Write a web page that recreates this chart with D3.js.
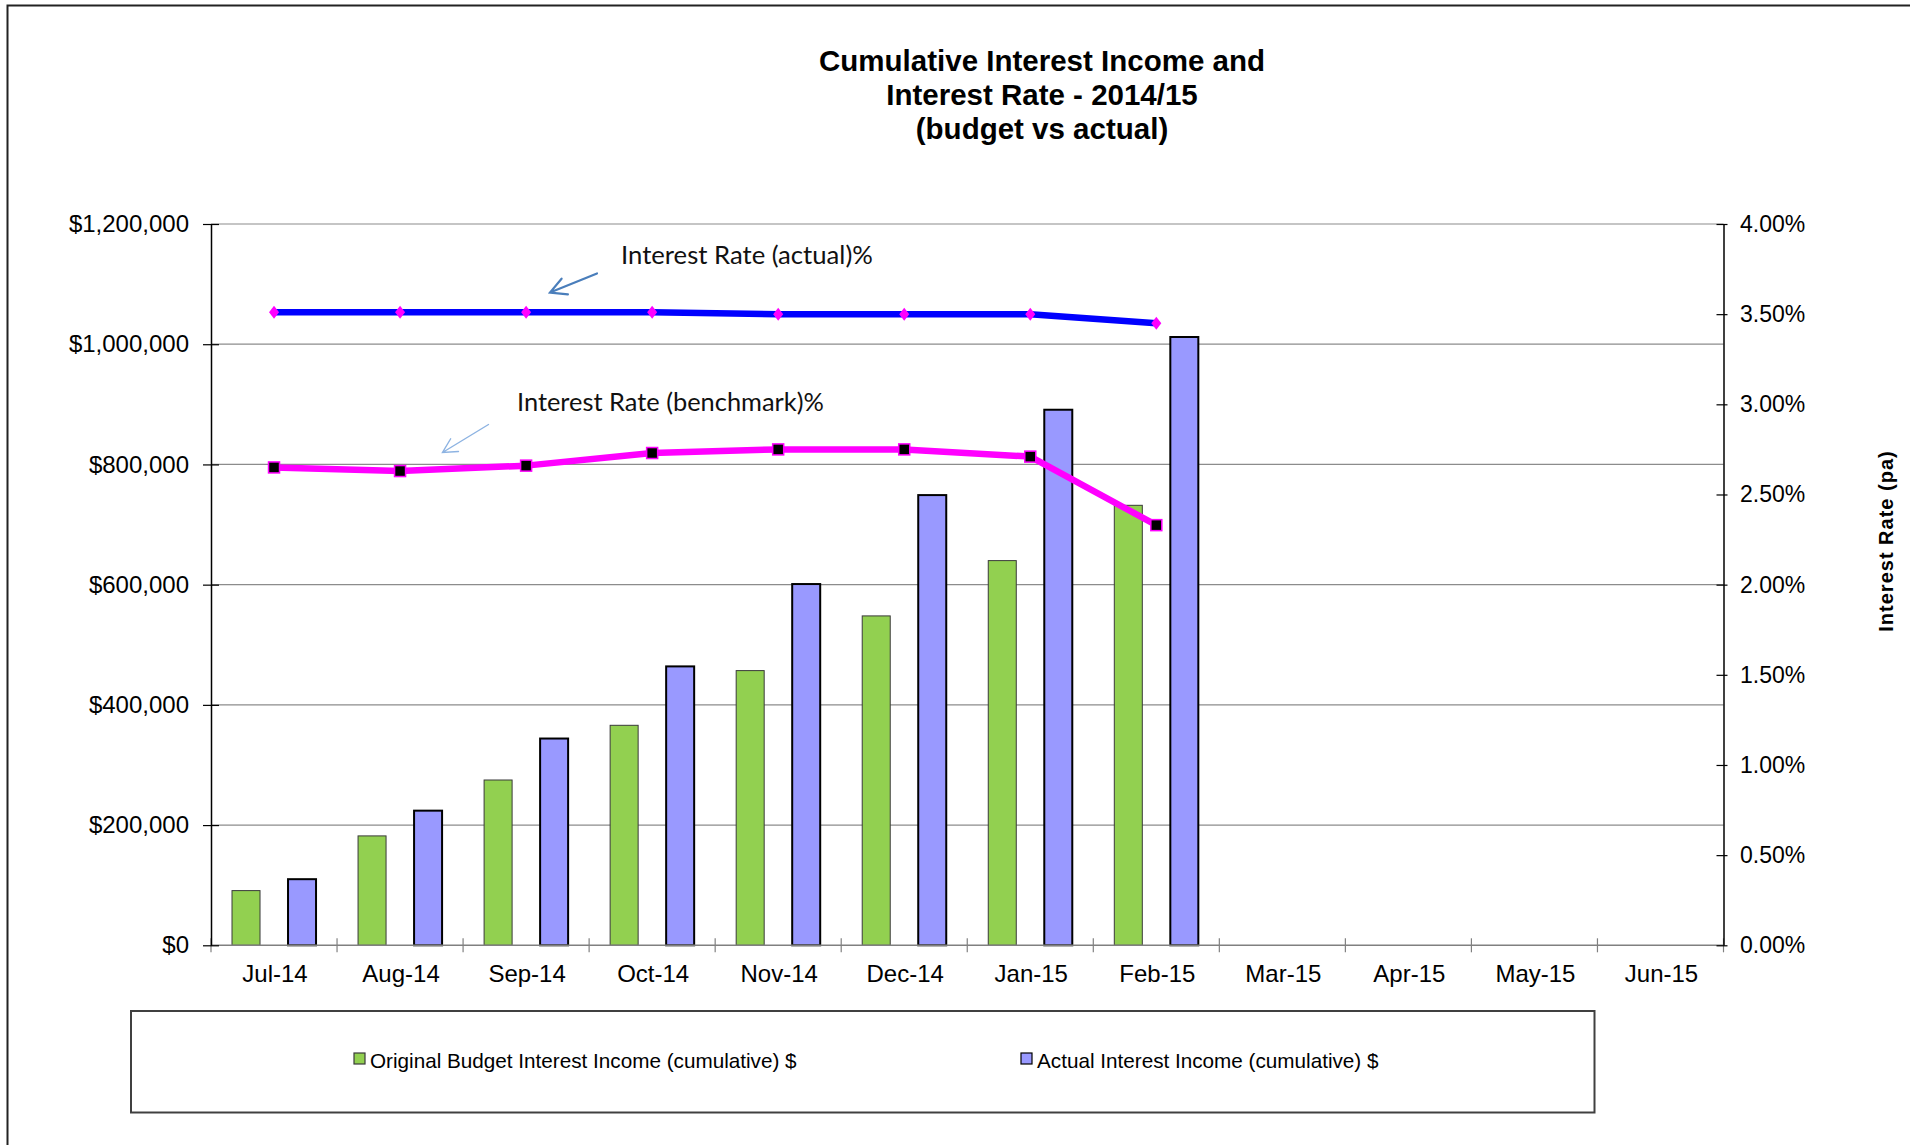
<!DOCTYPE html>
<html><head><meta charset="utf-8">
<script src="https://cdn.jsdelivr.net/npm/d3@7"></script>
<style>body{margin:0;background:#fff}</style>
</head><body><svg id="c" width="1910" height="1145"></svg>
<script>
// ---- DATA ----
const months = ["Jul-14","Aug-14","Sep-14","Oct-14","Nov-14","Dec-14","Jan-15","Feb-15","Mar-15","Apr-15","May-15","Jun-15"];
const budgetIncome = [91000, 182000, 275000, 366000, 457000, 548000, 640000, 732000, null, null, null, null];
const actualIncome = [110000, 224000, 344000, 464000, 601000, 749000, 891000, 1012000, null, null, null, null];
const rateActual = [3.51, 3.51, 3.51, 3.51, 3.50, 3.50, 3.50, 3.45, null, null, null, null];
const rateBenchmark = [2.65, 2.63, 2.66, 2.73, 2.75, 2.75, 2.71, 2.33, null, null, null, null];
const leftTicks = [0, 200000, 400000, 600000, 800000, 1000000, 1200000];
const rightTicks = [0, 0.5, 1.0, 1.5, 2.0, 2.5, 3.0, 3.5, 4.0];
const titleLines = ["Cumulative Interest Income and", "Interest Rate - 2014/15", "(budget vs actual)"];
const seriesNames = ["Original Budget Interest Income (cumulative) $", "Actual Interest Income (cumulative) $"];
const rightTitle = "Interest Rate (pa)";
const noteActual = "Interest Rate (actual)%";
const noteBenchmark = "Interest Rate (benchmark)%";

// ---- LAYOUT ----
const W = 1910, H = 1145;
const P = {left: 211, right: 1723.5, top: 224, bottom: 945.3};
const FONT = "'Liberation Sans', Arial, Helvetica, sans-serif";
const svg = d3.select("#c");
svg.append("rect").attr("width", W).attr("height", H).attr("fill", "#fff");
svg.append("path").attr("d", `M7.5,${H} V5.5 H${W}`).attr("fill", "none").attr("stroke", "#222").attr("stroke-width", 2);

const x = d3.scaleBand().domain(months).range([P.left, P.right]).paddingInner(0).paddingOuter(0);
const yL = d3.scaleLinear().domain([0, 1200000]).range([P.bottom, P.top]);
const yR = d3.scaleLinear().domain([0, 4]).range([P.bottom, P.top]);
const bw = x.bandwidth() / 4.5;
const cx = m => x(m) + x.bandwidth() / 2;

// title
svg.append("g").selectAll("text").data(titleLines).join("text")
  .attr("x", 1042).attr("y", (d, i) => 71 + i * 34)
  .attr("text-anchor", "middle").attr("font-family", FONT).attr("font-weight", "bold")
  .attr("font-size", 29.5).attr("fill", "#000").text(d => d);

// gridlines
svg.append("g").selectAll("line").data(leftTicks.filter(t => t > 0)).join("line")
  .attr("x1", P.left).attr("x2", P.right).attr("y1", d => yL(d)).attr("y2", d => yL(d))
  .attr("stroke", "#8c8c8c").attr("stroke-width", 1.2);

// bars
const gb = svg.append("g");
gb.selectAll("rect.b").data(months.map((m, i) => ({m, v: budgetIncome[i]})).filter(d => d.v != null)).join("rect")
  .attr("class", "b")
  .attr("x", d => x(d.m) + 0.75 * bw).attr("width", bw)
  .attr("y", d => yL(d.v)).attr("height", d => yL(0) - yL(d.v))
  .attr("fill", "#92D050").attr("stroke", "#3a3a3a").attr("stroke-width", 1);
gb.selectAll("rect.a").data(months.map((m, i) => ({m, v: actualIncome[i]})).filter(d => d.v != null)).join("rect")
  .attr("class", "a")
  .attr("x", d => x(d.m) + 2.75 * bw).attr("width", bw)
  .attr("y", d => yL(d.v)).attr("height", d => yL(0) - yL(d.v))
  .attr("fill", "#9999FF").attr("stroke", "#000").attr("stroke-width", 2);

// x axis
svg.append("line").attr("x1", P.left).attr("x2", P.right).attr("y1", yL(0)).attr("y2", yL(0))
  .attr("stroke", "#808080").attr("stroke-width", 1.5);
const bounds = months.map(m => x(m)).concat([P.right]);
svg.append("g").selectAll("line").data(bounds).join("line")
  .attr("x1", d => d).attr("x2", d => d).attr("y1", yL(0) - 7).attr("y2", yL(0) + 7)
  .attr("stroke", "#808080").attr("stroke-width", 1.2);
svg.append("g").selectAll("text").data(months).join("text")
  .attr("x", d => cx(d) + 1).attr("y", 982).attr("text-anchor", "middle")
  .attr("font-family", FONT).attr("font-size", 24).attr("fill", "#000").text(d => d);

// left axis
const axL = svg.append("g").attr("transform", `translate(${P.left},0)`)
  .call(d3.axisLeft(yL).tickValues(leftTicks).tickFormat(d3.format("$,")).tickSizeInner(8).tickSizeOuter(0).tickPadding(14));
axL.select(".domain").attr("stroke", "#000").attr("stroke-width", 1.5);
axL.selectAll(".tick line").attr("x1", 8).attr("x2", -8).attr("stroke", "#000").attr("stroke-width", 1.2);
axL.selectAll(".tick text").attr("font-family", FONT).attr("font-size", 24).attr("fill", "#000");

// right axis
const axR = svg.append("g").attr("transform", `translate(${P.right},0)`)
  .call(d3.axisRight(yR).tickValues(rightTicks).tickFormat(d => d.toFixed(2) + "%").tickSizeInner(4).tickSizeOuter(0).tickPadding(12.5));
axR.select(".domain").attr("stroke", "#000").attr("stroke-width", 1.5);
axR.selectAll(".tick line").attr("x1", -7).attr("x2", 4).attr("stroke", "#000").attr("stroke-width", 1.2);
axR.selectAll(".tick text").attr("font-family", FONT).attr("font-size", 23).attr("fill", "#000");

svg.append("text").attr("transform", `translate(1893,541) rotate(-90)`)
  .attr("text-anchor", "middle").attr("font-family", FONT).attr("font-weight", "bold")
  .attr("font-size", 20).attr("letter-spacing", 1).attr("fill", "#000").text(rightTitle);

// lines
const mk = arr => months.map((m, i) => ({m, v: arr[i]})).filter(d => d.v != null);
const line = d3.line().x(d => cx(d.m)).y(d => yR(d.v));
svg.append("path").datum(mk(rateActual)).attr("d", line)
  .attr("fill", "none").attr("stroke", "#0000FF").attr("stroke-width", 6.5).attr("stroke-linejoin", "round");
svg.append("path").datum(mk(rateBenchmark)).attr("d", line)
  .attr("fill", "none").attr("stroke", "#FF00FF").attr("stroke-width", 6.5).attr("stroke-linejoin", "round");
svg.append("g").selectAll("path").data(mk(rateActual)).join("path")
  .attr("transform", d => `translate(${cx(d.m)},${yR(d.v)})`)
  .attr("d", "M0,-6.5 L5,0 L0,6.5 L-5,0Z").attr("fill", "#FF00FF");
svg.append("g").selectAll("rect").data(mk(rateBenchmark)).join("rect")
  .attr("x", d => cx(d.m) - 5.5).attr("y", d => yR(d.v) - 5.5).attr("width", 11).attr("height", 11)
  .attr("fill", "#000").attr("stroke", "#FF00FF").attr("stroke-width", 1.5);

// annotations
function fitText(txt, xx, yy, target) {
  const t = svg.append("text").attr("x", xx).attr("y", yy).attr("font-family", "Lato, 'Open Sans', sans-serif")
    .attr("font-size", 24).attr("fill", "#111").text(txt);
  const w = t.node().getComputedTextLength();
  if (w > 0) t.attr("font-size", 24 * target / w);
}
fitText(noteActual, 621, 263.5, 252);
fitText(noteBenchmark, 517, 411, 307);
function arrow(x1, y1, x2, y2, color, sw, len) {
  const a = Math.atan2(y1 - y2, x1 - x2), d = 28 * Math.PI / 180;
  const p = `M${x1},${y1} L${x2},${y2} M${x2 + len * Math.cos(a - d)},${y2 + len * Math.sin(a - d)} L${x2},${y2} L${x2 + len * Math.cos(a + d)},${y2 + len * Math.sin(a + d)}`;
  svg.append("path").attr("d", p).attr("fill", "none").attr("stroke", color).attr("stroke-width", sw).attr("stroke-linecap", "round");
}
arrow(597, 273.5, 550, 292.5, "#4A7EBB", 2.2, 18);
arrow(488.5, 424.5, 442.5, 452.5, "#8DB3E2", 1.4, 16);

// legend
svg.append("rect").attr("x", 131).attr("y", 1011).attr("width", 1463.5).attr("height", 101.5)
  .attr("fill", "#fff").attr("stroke", "#404040").attr("stroke-width", 2);
const leg = [{x: 354, fill: "#92D050", stroke: "#3a3a3a"}, {x: 1021, fill: "#9999FF", stroke: "#000"}];
const lg = svg.append("g").selectAll("g").data(seriesNames).join("g");
lg.append("rect").attr("x", (d, i) => leg[i].x).attr("y", 1053).attr("width", 11).attr("height", 11)
  .attr("fill", (d, i) => leg[i].fill).attr("stroke", (d, i) => leg[i].stroke).attr("stroke-width", 1.2);
lg.append("text").attr("x", (d, i) => leg[i].x + 16).attr("y", 1068)
  .attr("font-family", FONT).attr("font-size", 20.7).attr("fill", "#000").text(d => d);
</script></body></html>
